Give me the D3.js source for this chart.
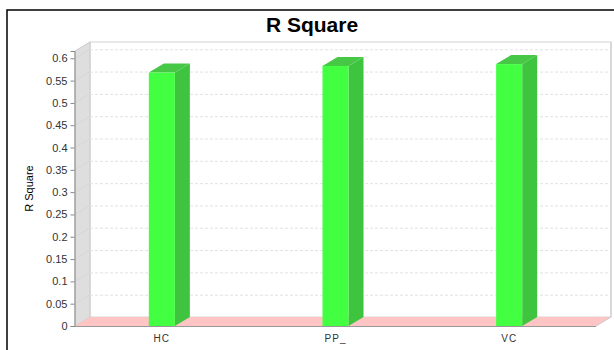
<!DOCTYPE html>
<html>
<head>
<meta charset="utf-8">
<script src="https://cdn.jsdelivr.net/npm/d3@7/dist/d3.min.js"></script>
<style>
  html, body { margin: 0; padding: 0; background: #fff; }
  svg { display: block; }
  text { font-family: "Liberation Sans", Arial, sans-serif; }
</style>
</head>
<body>
<svg id="chart" width="614" height="350"></svg>
<script>
// Chart data
const categories = ["HC", "PP_", "VC"];
const values = [0.568, 0.583, 0.587];
const tickValues = [0, 0.05, 0.1, 0.15, 0.2, 0.25, 0.3, 0.35, 0.4, 0.45, 0.5, 0.55, 0.6];
const tickLabels = ["0", "0.05", "0.1", "0.15", "0.2", "0.25", "0.3", "0.35", "0.4", "0.45", "0.5", "0.55", "0.6"];
const chartTitle = "R Square";
const yAxisTitle = "R Square";

const svg = d3.select("#chart");

// 3D plot geometry: front plane and depth offset
const front = { left: 75, right: 596, top: 51, bottom: 326 };
const depth = { dx: 15, dy: 9 };

const x = d3.scaleBand()
  .domain(categories)
  .range([front.left, front.right])
  .paddingInner(0.85)
  .paddingOuter(0.425);

const y = d3.scaleLinear()
  .domain([0, d3.max(values) * 1.05])
  .range([front.bottom, front.top]);

// Outer chart border
svg.append("rect")
  .attr("x", 7).attr("y", 10)
  .attr("width", 612).attr("height", 345)
  .attr("fill", "none").attr("stroke", "#000").attr("stroke-width", 1.5);

// Title
svg.append("text")
  .attr("x", 312).attr("y", 32)
  .attr("text-anchor", "middle")
  .attr("font-size", 21).attr("font-weight", "bold")
  .attr("fill", "#000")
  .text(chartTitle);

const g = svg.append("g");
const bx0 = front.left + depth.dx, bx1 = front.right + depth.dx;
const by0 = front.top - depth.dy, by1 = front.bottom - depth.dy;

// Back wall
g.append("rect")
  .attr("x", bx0).attr("y", by0)
  .attr("width", bx1 - bx0).attr("height", by1 - by0)
  .attr("fill", "#fff").attr("stroke", "#d2d2d2").attr("stroke-width", 1);

// Left side wall
g.append("path")
  .attr("d", `M${front.left},${front.top}L${bx0},${by0}L${bx0},${by1}L${front.left},${front.bottom}Z`)
  .attr("fill", "#dedede").attr("stroke", "#cacaca").attr("stroke-width", 1);

// Gridlines on back wall and side wall
tickValues.forEach(v => {
  if (v === 0) return;
  const yy = y(v);
  g.append("line")
    .attr("x1", bx0).attr("x2", bx1 - 1)
    .attr("y1", yy - depth.dy + 0.5).attr("y2", yy - depth.dy + 0.5)
    .attr("stroke", "#e2e2e2").attr("stroke-width", 1)
    .attr("stroke-dasharray", "3,2");
  g.append("line")
    .attr("x1", front.left).attr("x2", bx0)
    .attr("y1", yy).attr("y2", yy - depth.dy)
    .attr("stroke", "#d4d4d4").attr("stroke-width", 0.8);
});

// Floor
g.append("path")
  .attr("d", `M${front.left},${front.bottom}L${bx0},${by1}L${bx1},${by1}L${front.right},${front.bottom}Z`)
  .attr("fill", "#ffc4c4").attr("stroke", "none");
g.append("line")
  .attr("x1", bx1).attr("y1", by0).attr("x2", bx1).attr("y2", by1)
  .attr("stroke", "#c8c8c8");
g.append("line")
  .attr("x1", front.right).attr("y1", front.bottom).attr("x2", bx1).attr("y2", by1)
  .attr("stroke", "#c8c8c8");

// Bars
const bw = x.bandwidth();
const bars = g.selectAll("g.bar").data(categories.map((c, i) => ({ c, v: values[i] })))
  .enter().append("g").attr("class", "bar");

bars.append("path") // side face
  .attr("d", d => {
    const x1 = x(d.c) + bw, yt = y(d.v);
    return `M${x1},${yt}L${x1 + depth.dx},${yt - depth.dy}L${x1 + depth.dx},${by1}L${x1},${front.bottom}Z`;
  })
  .attr("fill", "#3fc43f");
bars.append("path") // top face
  .attr("d", d => {
    const x0 = x(d.c), yt = y(d.v);
    return `M${x0},${yt}L${x0 + depth.dx},${yt - depth.dy}L${x0 + bw + depth.dx},${yt - depth.dy}L${x0 + bw},${yt}Z`;
  })
  .attr("fill", "#46c846");
bars.append("rect") // front face
  .attr("x", d => x(d.c)).attr("y", d => y(d.v))
  .attr("width", bw).attr("height", d => front.bottom - y(d.v))
  .attr("fill", "#42ff42");

// Y axis
const yAxis = d3.axisLeft(y)
  .tickValues(tickValues)
  .tickFormat((d, i) => tickLabels[i])
  .tickSize(4).tickPadding(3);
const ya = svg.append("g")
  .attr("transform", `translate(${front.left - 0.5},0)`)
  .call(yAxis);
ya.select(".domain").attr("stroke", "#888");
ya.selectAll(".tick line").attr("stroke", "#888");
ya.selectAll(".tick text").attr("font-size", 11).attr("fill", "#333")
  .attr("font-family", "Liberation Sans, Arial, sans-serif");

// X axis
const xAxis = d3.axisBottom(x).tickSize(0).tickPadding(8);
const xa = svg.append("g")
  .attr("transform", `translate(0,${front.bottom + 0.5})`)
  .call(xAxis);
xa.select(".domain").attr("stroke", "#999").attr("d", `M${front.left},0H${front.right}`);
xa.selectAll(".tick text").attr("font-size", 10).attr("fill", "#333")
  .attr("font-family", "Liberation Sans, Arial, sans-serif")
  .attr("letter-spacing", "1px");

// Y axis title
svg.append("text")
  .attr("transform", `translate(33,${(front.top + front.bottom) / 2}) rotate(-90)`)
  .attr("text-anchor", "middle")
  .attr("font-size", 11).attr("fill", "#000")
  .text(yAxisTitle);
</script>
</body>
</html>
